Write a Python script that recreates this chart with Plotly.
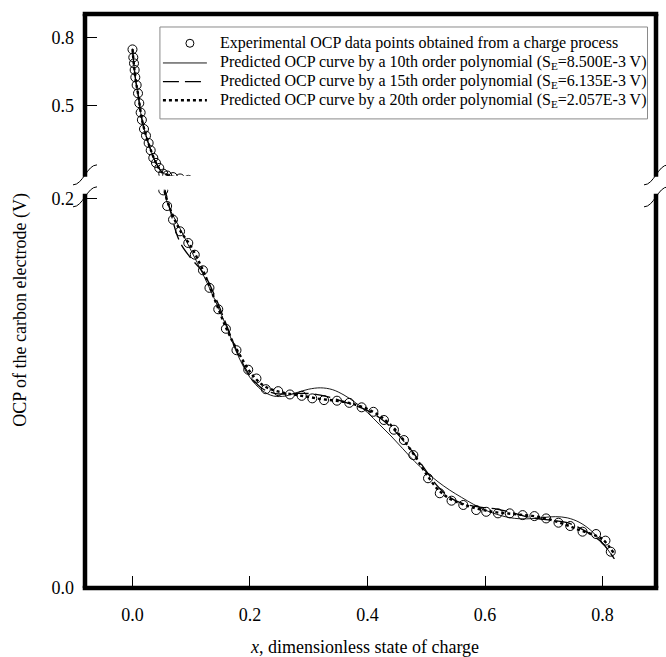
import plotly.graph_objects as go

# ---------------- data ----------------
exp_x = [0.000, 0.0014, 0.0026, 0.0037, 0.0048, 0.0071, 0.0094, 0.0116, 0.0139, 0.0160,
         0.0196, 0.0230, 0.0275, 0.0310, 0.0354, 0.0400, 0.0456, 0.0524,
         0.059, 0.069, 0.081, 0.095, 0.106, 0.120, 0.131, 0.146, 0.159, 0.177,
         0.197, 0.211, 0.227, 0.248, 0.268, 0.288, 0.306, 0.326, 0.348, 0.369,
         0.390, 0.410, 0.428, 0.445, 0.462, 0.478, 0.503, 0.523, 0.543, 0.563,
         0.585, 0.602, 0.622, 0.642, 0.664, 0.684, 0.704, 0.725, 0.745, 0.766,
         0.789, 0.805, 0.814]
exp_y = [0.747, 0.712, 0.686, 0.657, 0.625, 0.591, 0.555, 0.512, 0.471, 0.439,
         0.399, 0.370, 0.338, 0.306, 0.273, 0.251, 0.229, 0.204,
         0.196, 0.189, 0.183, 0.177, 0.171, 0.163, 0.154, 0.143, 0.133, 0.122,
         0.112, 0.1075, 0.102, 0.101, 0.0993, 0.0986, 0.0973, 0.0964, 0.0961, 0.0950,
         0.0927, 0.0904, 0.0862, 0.0812, 0.0759, 0.0682, 0.0563, 0.0486, 0.0448, 0.0426,
         0.0400, 0.0391, 0.0383, 0.0383, 0.0374, 0.0369, 0.0357, 0.0335, 0.0318, 0.0289,
         0.0277, 0.0243, 0.0186]

fit_x = [0.000, 0.005, 0.010, 0.015, 0.020, 0.030, 0.040, 0.050, 0.060, 0.080,
         0.100, 0.120, 0.140, 0.160, 0.180, 0.200, 0.220, 0.240, 0.260, 0.280,
         0.300, 0.320, 0.340, 0.360, 0.380, 0.400, 0.420, 0.440, 0.460, 0.480,
         0.500, 0.520, 0.540, 0.560, 0.580, 0.600, 0.620, 0.640, 0.660, 0.680,
         0.700, 0.720, 0.740, 0.760, 0.780, 0.800, 0.820]

fit10_y = [0.750, 0.620, 0.540, 0.455, 0.397, 0.315, 0.252, 0.212, 0.197, 0.185,
           0.173, 0.161, 0.148, 0.134, 0.119, 0.108, 0.1015, 0.0985, 0.0985, 0.1003,
           0.1020, 0.1027, 0.1018, 0.0990, 0.0950, 0.0900, 0.0840, 0.0780, 0.0715, 0.0650,
           0.0595, 0.0545, 0.0502, 0.0465, 0.0430, 0.0400, 0.0378, 0.0362, 0.0355, 0.0356,
           0.0362, 0.0366, 0.0360, 0.0338, 0.0296, 0.0232, 0.0150]

fit15_y = [0.750, 0.620, 0.545, 0.455, 0.397, 0.315, 0.251, 0.212, 0.199, 0.178,
           0.169, 0.162, 0.150, 0.135, 0.120, 0.109, 0.1025, 0.1000, 0.0995, 0.0998,
           0.0998, 0.0990, 0.0975, 0.0955, 0.0935, 0.0910, 0.0875, 0.0825, 0.0760, 0.0685,
           0.0600, 0.0520, 0.0465, 0.0435, 0.0420, 0.0412, 0.0405, 0.0392, 0.0375, 0.0360,
           0.0352, 0.0345, 0.0335, 0.0310, 0.0275, 0.0230, 0.0150]

fit20_y = [0.748, 0.621, 0.545, 0.456, 0.398, 0.316, 0.251, 0.211, 0.198, 0.184,
           0.175, 0.163, 0.148, 0.133, 0.121, 0.111, 0.1045, 0.1015, 0.1000, 0.0990,
           0.0980, 0.0970, 0.0963, 0.0955, 0.0940, 0.0918, 0.0885, 0.0835, 0.0765, 0.0680,
           0.0585, 0.0505, 0.0458, 0.0432, 0.0412, 0.0398, 0.0388, 0.0382, 0.0376, 0.0370,
           0.0360, 0.0342, 0.0322, 0.0298, 0.0278, 0.0250, 0.0175]

x_ticks = [0.0, 0.2, 0.4, 0.6, 0.8]
x_ticktext = ["0.0", "0.2", "0.4", "0.6", "0.8"]
y_low_ticks = [0.0, 0.2]
y_low_ticktext = ["0.0", "0.2"]
y_up_ticks = [0.5, 0.8]
y_up_ticktext = ["0.5", "0.8"]

names = [
    "Experimental OCP data points obtained from a charge process",
    "Predicted OCP curve by a 10th order polynomial (S<sub>E</sub>=8.500E-3 V)",
    "Predicted OCP curve by a 15th order polynomial (S<sub>E</sub>=6.135E-3 V)",
    "Predicted OCP curve by a 20th order polynomial (S<sub>E</sub>=2.057E-3 V)",
]

FONT = "Liberation Serif"
DASH = "16px,6px"

marker_style = dict(symbol="circle-open", size=9, color="black", line=dict(width=1))
line10 = dict(color="black", width=0.9)
line15 = dict(color="black", width=1.3, dash=DASH)
line20 = dict(color="black", width=2.4, dash="dot")

fig = go.Figure()

for yax in ("y2", "y"):
    fig.add_trace(go.Scatter(x=exp_x, y=exp_y, mode="markers", name=names[0],
                             xaxis="x", yaxis=yax, marker=marker_style))
    fig.add_trace(go.Scatter(x=fit_x, y=fit10_y, mode="lines", name=names[1],
                             xaxis="x", yaxis=yax, line_shape="spline", line=line10))
    fig.add_trace(go.Scatter(x=fit_x, y=fit15_y, mode="lines", name=names[2],
                             xaxis="x", yaxis=yax, line_shape="spline", line=line15))
    fig.add_trace(go.Scatter(x=fit_x, y=fit20_y, mode="lines", name=names[3],
                             xaxis="x", yaxis=yax, line_shape="spline", line=line20))

# ---------- frame (paper coordinates) ----------
def px2x(px):
    return (px - 85) / 571.5

def py2y(py):
    return (588.5 - py) / 574.5

LW = 4.5
shapes = []
shapes.append(dict(type="line", xref="paper", yref="paper", x0=-0.004, x1=1.004, y0=0, y1=0,
                   line=dict(color="black", width=LW)))
shapes.append(dict(type="line", xref="paper", yref="paper", x0=-0.004, x1=1.004, y0=1, y1=1,
                   line=dict(color="black", width=LW)))
for xx in (0, 1):
    shapes.append(dict(type="line", xref="paper", yref="paper", x0=xx, x1=xx,
                       y0=py2y(177), y1=1, line=dict(color="black", width=LW)))
    shapes.append(dict(type="line", xref="paper", yref="paper", x0=xx, x1=xx,
                       y0=0, y1=py2y(194), line=dict(color="black", width=LW)))

def brk(cx, cy):
    x0, y0 = px2x(cx - 12), py2y(cy + 10)
    x3, y3 = px2x(cx + 12), py2y(cy - 10)
    c1x, c1y = px2x(cx - 2), py2y(cy + 10)
    c2x, c2y = px2x(cx + 2), py2y(cy - 10)
    return dict(type="path", xref="paper", yref="paper",
                path=f"M {x0},{y0} C {c1x},{c1y} {c2x},{c2y} {x3},{y3}",
                line=dict(color="black", width=1))

for cx in (85, 656.5):
    shapes.append(brk(cx, 175))
    shapes.append(brk(cx, 197))

# ---------- legend box (drawn by hand to match the original layout) ----------
shapes.append(dict(type="rect", xref="paper", yref="paper",
                   x0=px2x(160), x1=px2x(648), y0=py2y(119), y1=py2y(27),
                   line=dict(color="#8a8a8a", width=1), fillcolor="white", layer="above"))
rows = [43.3, 63.0, 81.7, 100.3]
shapes.append(dict(type="circle", xref="paper", yref="paper",
                   x0=px2x(186), x1=px2x(194), y0=py2y(rows[0] + 4), y1=py2y(rows[0] - 4),
                   line=dict(color="black", width=1)))
for r, ln in zip(rows[1:], (line10, line15, line20)):
    shapes.append(dict(type="line", xref="paper", yref="paper",
                       x0=px2x(163), x1=px2x(207), y0=py2y(r), y1=py2y(r), line=ln))

annotations = []
for r, nm in zip(rows, names):
    annotations.append(dict(text=nm, xref="paper", yref="paper", x=px2x(218), y=py2y(r),
                            showarrow=False, xanchor="left", yanchor="middle",
                            font=dict(family=FONT, size=16, color="black")))
annotations.append(dict(text="<i>x</i>, dimensionless state of charge", xref="paper", yref="paper",
                        x=px2x(365), y=py2y(648), showarrow=False, xanchor="center",
                        yanchor="middle", font=dict(family=FONT, size=18, color="black")))
annotations.append(dict(text="OCP of the carbon electrode (V)", xref="paper", yref="paper",
                        x=px2x(21), y=py2y(310), showarrow=False, textangle=-90,
                        xanchor="center", yanchor="middle",
                        font=dict(family=FONT, size=18, color="black")))

axis_common = dict(showgrid=False, zeroline=False, showline=False, ticks="inside",
                   ticklen=12, tickwidth=1.2, tickcolor="black",
                   tickfont=dict(family=FONT, size=18, color="black"))

fig.update_layout(
    width=666, height=657,
    margin=dict(l=85, r=9.5, t=14, b=68.5),
    paper_bgcolor="white", plot_bgcolor="white",
    font=dict(family=FONT, color="black"),
    xaxis=dict(domain=[0, 1], range=[-0.0808, 0.891], anchor="y",
               tickvals=x_ticks, ticktext=x_ticktext, ticklabelstandoff=14, **axis_common),
    yaxis=dict(domain=[0, 0.6937], range=[0, 0.2043], anchor="x",
               tickvals=y_low_ticks, ticktext=y_low_ticktext, ticklabelstandoff=10, **axis_common),
    yaxis2=dict(domain=[0.718, 1], range=[0.1943, 0.9017], anchor="x",
                tickvals=y_up_ticks, ticktext=y_up_ticktext, ticklabelstandoff=10, **axis_common),
    shapes=shapes,
    annotations=annotations,
    showlegend=False,
)

fig.write_html("out.html", config={"displayModeBar": False},
               post_script="document.body.style.margin='0px';")
